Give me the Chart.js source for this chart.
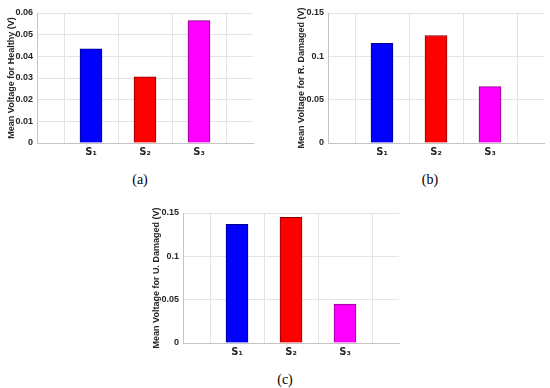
<!DOCTYPE html>
<html>
<head>
<meta charset="utf-8">
<script src="https://cdn.jsdelivr.net/npm/chart.js@4.4.0/dist/chart.umd.min.js"></script>
<style>
  body { margin: 0; background: #fff; }
  #wrap { position: relative; width: 550px; height: 388px; overflow: hidden; }
  .box { position: absolute; }
  .cap { position: absolute; font: 14px "Liberation Serif", serif; color: #000; transform: translate(-50%, -50%); }
</style>
</head>
<body>
<div id="wrap">
  <div class="box" style="left:0;top:0;width:275px;height:165px"><canvas id="chartA"></canvas></div>
  <div class="box" style="left:275px;top:0;width:275px;height:165px"><canvas id="chartB"></canvas></div>
  <div class="box" style="left:130px;top:200px;width:280px;height:165px"><canvas id="chartC"></canvas></div>
  <div class="cap" style="left:140px;top:180px">(a)</div>
  <div class="cap" style="left:430px;top:180px">(b)</div>
  <div class="cap" style="left:285px;top:380px">(c)</div>
</div>
<script>
// Datos
const sensores = ["S\u2081", "S\u2082", "S\u2083"];
const healthy = [0.0435, 0.0305, 0.0565];
const rDamaged = [0.115, 0.124, 0.065];
const uDamaged = [0.137, 0.145, 0.045];
const ticksA = [0, 0.06, 0.01];
const ticksB = [0, 0.15, 0.05];
const ticksC = [0, 0.15, 0.05];

// Colores de las barras
const colores = ["#0000ff", "#ff0000", "#ff00ff"];
const bordes = ["#00008a", "#8a0000", "#8a008a"];

const fuente = { family: "'Liberation Sans', 'DejaVu Sans', sans-serif", size: 9, weight: "bold" };
const fuenteX = { family: "'DejaVu Sans', sans-serif", size: 10, weight: "bold" };

function crearGrafico(id, valores, titulo, rango, ejeAncho, dcha, tituloPad) {
  // categorias con un hueco a cada lado
  const labels = ["", ...sensores, ""];
  const data = [null, ...valores, null];
  const ctx = document.getElementById(id).getContext("2d");
  new Chart(ctx, {
    type: "bar",
    data: {
      labels: labels,
      datasets: [{
        data: data,
        backgroundColor: ["#fff", ...colores, "#fff"],
        borderColor: ["#fff", ...bordes, "#fff"],
        borderWidth: 1,
        barThickness: 22,
      }],
    },
    options: {
      responsive: true,
      maintainAspectRatio: false,
      animation: false,
      layout: { padding: { top: 13, right: dcha, left: 0, bottom: 0 } },
      plugins: { legend: { display: false }, tooltip: { enabled: false } },
      scales: {
        x: {
          offset: false,
          grid: { color: "#e4e4e4", drawTicks: false },
          border: { color: "#c4c4c4" },
          ticks: { color: "#262626", font: fuenteX, padding: 3, maxRotation: 0, autoSkip: false },
          afterFit: (s) => { s.height = 22; },
        },
        y: {
          min: rango[0],
          max: rango[1],
          grid: { color: "#e4e4e4", drawTicks: false },
          border: { color: "#c4c4c4" },
          ticks: {
            stepSize: rango[2],
            color: "#262626",
            font: fuente,
            padding: 4,
            callback: (v) => String(Number(v.toFixed(4))),
          },
          title: { display: true, text: titulo, color: "#262626", font: fuente, padding: { top: tituloPad, bottom: 0 } },
          afterFit: (s) => { s.width = ejeAncho; },
        },
      },
    },
  });
}

crearGrafico("chartA", healthy, "Mean Voltage for Healthy (V)", ticksA, 37, 22, 6.5);
crearGrafico("chartB", rDamaged, "Mean Voltage for R. Damaged (V)", ticksB, 53, 6, 21.5);
crearGrafico("chartC", uDamaged, "Mean Voltage for U. Damaged (V)", ticksC, 53, 11, 21.5);
</script>
</body>
</html>
